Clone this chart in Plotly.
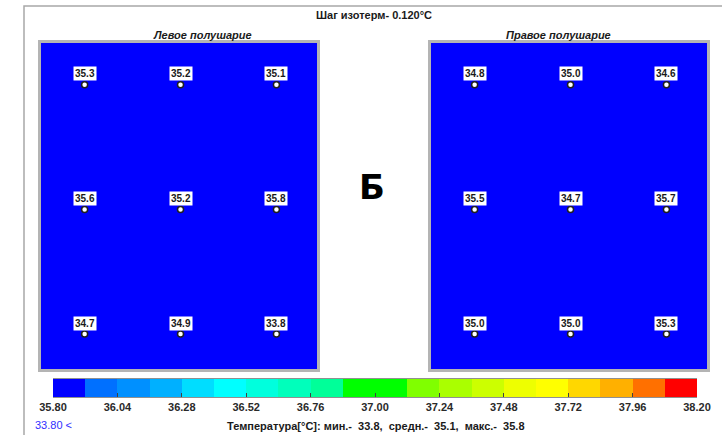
import plotly.graph_objects as go
import numpy as np

# ---- data ----
left_temps = [[35.3, 35.2, 35.1],
              [35.6, 35.2, 35.8],
              [34.7, 34.9, 33.8]]
right_temps = [[34.8, 35.0, 34.6],
               [35.5, 34.7, 35.7],
               [35.0, 35.0, 35.3]]
scale_min = 35.80
scale_max = 38.20
scale_step = 0.12
scale_colors = ["#0000FF", "#0070FF", "#0090FF", "#00B0FF", "#00DDFF",
                "#00FFFF", "#00FFDD", "#00FFBB", "#00FF99", "#00FF00",
                "#00FF00", "#80FF00", "#AAFF00", "#CCFF00", "#EEFF00",
                "#FFFF00", "#FFD700", "#FFB000", "#FF7000", "#FF0000"]
panel_titles = ["Левое полушарие", "Правое полушарие"]
low_label = "33.80 <"

W, H = 722, 435
def px(x): return x / W
def py(y): return 1 - y / H

n = len(scale_colors)
cscale = []
for i, c in enumerate(scale_colors):
    cscale.append([i / n, c])
    cscale.append([(i + 1) / n, c])

fig = go.Figure()

font_main = "Liberation Sans"
txt_col = "#1a1a1a"

panels = [(left_temps, "x", "y"), (right_temps, "x2", "y2")]
for temps, xa, ya in panels:
    fig.add_trace(go.Heatmap(
        z=temps, x=[0, 1, 2], y=[0, 1, 2], colorscale=cscale,
        zmin=scale_min, zmax=scale_max, showscale=False,
        xaxis=xa, yaxis=ya, hoverinfo="skip"))
    xs, ys, labels = [], [], []
    for r, row in enumerate(temps):
        for c, v in enumerate(row):
            xs.append(c); ys.append(r); labels.append(f"{v:.1f}")
    fig.add_trace(go.Scatter(
        x=xs, y=ys, mode="markers", xaxis=xa, yaxis=ya,
        marker=dict(size=6, color="white", line=dict(color="#202020", width=1.5)),
        hoverinfo="skip", showlegend=False))
    for x, y, t in zip(xs, ys, labels):
        fig.add_annotation(x=x, y=y, xref=xa, yref=ya, text=f"<b>{t}</b>", showarrow=False,
                           yshift=11, bgcolor="white", borderpad=1,
                           xanchor="center", yanchor="middle",
                           font=dict(family=font_main, size=10, color=txt_col))

# colour scale bar
edges = np.round(np.arange(scale_min, scale_max + 1e-9, scale_step), 2)
centers = (edges[:-1] + edges[1:]) / 2
fig.add_trace(go.Heatmap(
    z=[list(centers)], x=list(centers), y=[0], colorscale=cscale,
    zmin=scale_min, zmax=scale_max, showscale=False,
    xaxis="x3", yaxis="y3", hoverinfo="skip"))

tickvals = edges[::2]
ticktext = [f"<b>{v:.2f}</b>" for v in tickvals]

xr = [-0.455, 2.423]
yr = [2.28, -0.335]
axis_common = dict(showgrid=False, zeroline=False, showticklabels=False, ticks="",
                   showline=True, mirror=True, linecolor="#b4b4b4", linewidth=2.5)

fig.update_layout(
    width=W, height=H, margin=dict(l=0, r=0, t=0, b=0, pad=0, autoexpand=False),
    paper_bgcolor="white", plot_bgcolor="white", showlegend=False,
    xaxis=dict(domain=[px(41), px(317)], range=xr, **axis_common),
    yaxis=dict(domain=[py(369), py(43)], range=yr, **axis_common),
    xaxis2=dict(domain=[px(431), px(707)], range=xr, anchor="y2", **axis_common),
    yaxis2=dict(domain=[py(369), py(43)], range=yr, anchor="x2", **axis_common),
    xaxis3=dict(domain=[px(53), px(697)], range=[scale_min, scale_max], anchor="y3",
                tickvals=list(tickvals), ticktext=ticktext, ticks="inside",
                ticklen=4, tickcolor="#404040", showgrid=False, zeroline=False,
                showline=True, mirror=True, linecolor="#909090", linewidth=1,
                automargin=False,
                tickfont=dict(family=font_main, size=11, color="#2a2a2a")),
    yaxis3=dict(domain=[py(397), py(379)], range=[-0.5, 0.5], anchor="x3",
                showticklabels=False, showgrid=False, zeroline=False, ticks=""),
)

# outer frame
fig.add_shape(type="rect", xref="paper", yref="paper",
              x0=px(24), x1=px(760), y0=py(470), y1=py(6),
              line=dict(color="#a8a8a8", width=1.5))

def note(x, y, text, size, color=txt_col, family=font_main, xanchor="center"):
    fig.add_annotation(xref="paper", yref="paper", x=px(x), y=py(y), text=text,
                       showarrow=False, xanchor=xanchor, yanchor="middle",
                       font=dict(family=family, size=size, color=color))

note(374, 15, f"<b>Шаг изотерм- {scale_step:.3f}°C</b>", 11)
for t, cx in zip(panel_titles, [203, 558]):
    note(cx, 35, f"<b><i>{t}</i></b>", 11)

note(372, 187, "<b>Б</b>", 34, color="black", family="DejaVu Sans")
note(33, 425, low_label, 11, color="#3030ff", xanchor="left")

allv = np.array(left_temps + right_temps).ravel()
stats = (f"Температура[°C]: мин.-  {allv.min():.1f},  средн.-  {allv.mean():.1f},"
         f"  макс.-  {allv.max():.1f}")
note(376, 426, f"<b>{stats}</b>", 11)

fig.write_html("out.html")
